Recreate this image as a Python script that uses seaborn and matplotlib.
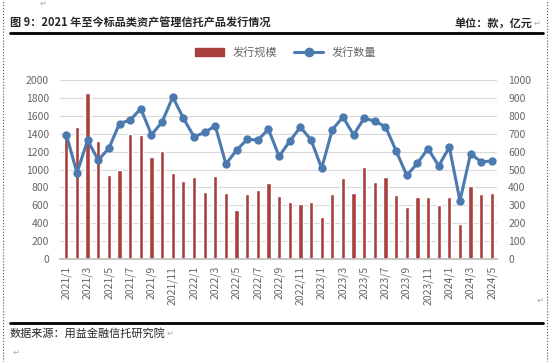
import matplotlib
matplotlib.use("Agg")
import matplotlib.pyplot as plt
import seaborn as sns
import pandas as pd
from matplotlib.lines import Line2D
from matplotlib.patches import Patch

# month labels 2021/1 .. 2024/5
months = [f"{y}/{m}" for y in (2021, 2022, 2023) for m in range(1, 13)] + [f"2024/{m}" for m in range(1, 6)]

# 发行规模 (亿元, left axis)
scale = [1390, 1470, 1860, 1316, 942, 999, 1402, 1380, 1141, 1204, 957, 870,
         916, 752, 924, 737, 542, 729, 774, 849, 707, 632, 610, 632,
         467, 729, 901, 740, 1025, 860, 916, 718, 576, 688, 688, 598,
         688, 393, 819, 729, 740]

# 发行数量 (款, right axis)
count = [695, 481, 664, 552, 619, 757, 776, 840, 694, 765, 905, 787,
         683, 707, 744, 531, 608, 668, 665, 724, 574, 658, 737, 666,
         507, 722, 793, 694, 787, 770, 739, 604, 467, 535, 617, 520,
         625, 325, 589, 542, 548]

df = pd.DataFrame({"month": months, "scale": scale, "count": count, "idx": range(len(months))})

sns.set_theme(style="white")
plt.rcParams["font.family"] = ["Noto Sans CJK SC", "DejaVu Sans"]

bar_color = "#A8403E"
line_color = "#4A7AB0"
tick_color = "#666666"
mark_color = "#AAAAAA"

fig = plt.figure(figsize=(5.5, 3.62), dpi=100)
ax = fig.add_axes([0.109, 0.2845, 0.795, 0.4945])

sns.barplot(data=df, x="month", y="scale", color=bar_color, width=0.4,
            saturation=1, ax=ax)
ax.set_ylim(0, 2000)
ax.set_yticks(range(0, 2001, 200))
ax.set_xlim(-0.6, 40.5)
ax.grid(axis="y", color="#D9D9D9", linewidth=0.8)
ax.set_axisbelow(True)
ax.set_xlabel("")
ax.set_ylabel("")
ax.set_xticks(range(0, 41, 2))
ax.set_xticklabels(months[::2], rotation=90, fontsize=7.5, color=tick_color)
ax.set_xticks([i - 0.5 for i in range(0, 42, 2)], minor=True)
ax.tick_params(axis="y", labelsize=7.5, labelcolor=tick_color, length=0, pad=8)
ax.tick_params(axis="x", which="major", length=0, pad=5)
ax.tick_params(axis="x", which="minor", length=3, color="#BFBFBF", width=0.8)
for s in ("left", "right", "top"):
    ax.spines[s].set_visible(False)
ax.spines["bottom"].set_color("#BFBFBF")

ax2 = ax.twinx()
sns.lineplot(data=df, x="idx", y="count", color=line_color, linewidth=2.2,
             marker="o", markersize=6, markeredgewidth=0, ax=ax2)
ax2.set_ylim(0, 1000)
ax2.set_yticks(range(0, 1001, 100))
ax2.set_xlim(-0.6, 40.5)
ax2.set_ylabel("")
ax2.tick_params(axis="y", labelsize=7.5, labelcolor=tick_color, length=0, pad=8)
for s in ("left", "right", "top", "bottom"):
    ax2.spines[s].set_visible(False)

handles = [Patch(color=bar_color),
           Line2D([0], [0], color=line_color, linewidth=2.2, marker="o", markersize=6)]
fig.legend(handles, ["发行规模", "发行数量"], loc="center", bbox_to_anchor=(0.52, 0.855),
           ncol=2, frameon=False, fontsize=8, handlelength=2.6, columnspacing=1.5,
           labelcolor=tick_color)

# header / footer of the report page
fig.text(0.018, 0.937, "图 9：2021 年至今标品类资产管理信托产品发行情况",
         fontsize=8, fontweight="bold", ha="left", va="center")
fig.text(0.968, 0.937, "单位：款，亿元", fontsize=8, fontweight="bold",
         ha="right", va="center")
fig.text(0.970, 0.937, "↵", fontsize=6, color=mark_color, ha="left", va="center")
fig.text(0.072, 0.99, "↵", fontsize=6, color=mark_color, ha="left", va="center")
fig.add_artist(Line2D([0.018, 0.987], [0.909, 0.909], color="black", linewidth=2))
fig.add_artist(Line2D([0.018, 0.987], [0.109, 0.109], color="black", linewidth=2))
fig.text(0.018, 0.08, "数据来源：用益金融信托研究院", fontsize=8, ha="left", va="center")
fig.text(0.303, 0.08, "↵", fontsize=6, color=mark_color, ha="left", va="center")
fig.text(0.022, 0.028, "↵", fontsize=6, color=mark_color, ha="left", va="center")
fig.text(0.975, 0.17, "↵", fontsize=6, color=mark_color, ha="left", va="center")
fig.add_artist(Line2D([0.005, 0.005], [0, 1], color="#555555", linewidth=0.8, linestyle=":"))
fig.add_artist(Line2D([0.995, 0.995], [0, 1], color="#555555", linewidth=0.8, linestyle=":"))

fig.savefig("out.png", dpi=100)
